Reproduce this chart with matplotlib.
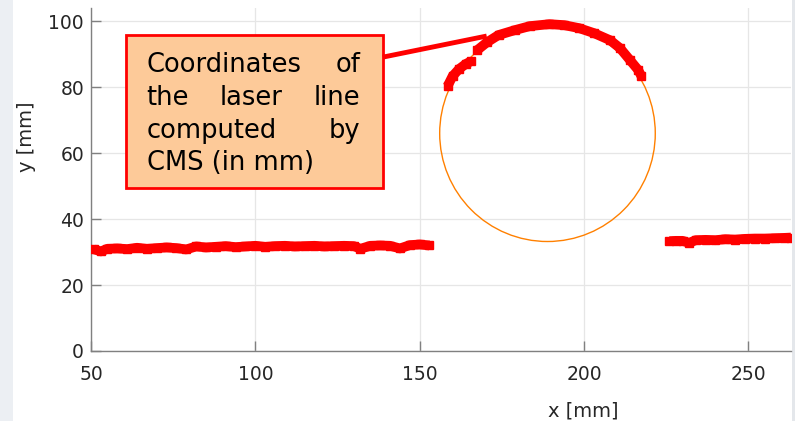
import numpy as np
import matplotlib
matplotlib.use("Agg")
import matplotlib.pyplot as plt
from matplotlib.patches import Circle, Rectangle

# Laser line points (mm)
left_x = [51, 53, 55, 58, 61, 64, 67, 70, 73, 76, 79, 82, 85, 88, 91, 94, 97, 100, 103, 106,
          109, 112, 115, 118, 121, 124, 127, 130, 132, 135, 138, 141, 144, 147, 150, 153]
left_y = [30.8, 30.2, 31.0, 31.1, 30.9, 31.3, 31.0, 31.2, 31.4, 31.2, 30.8, 31.7, 31.4, 31.6,
          31.8, 31.5, 31.7, 31.9, 31.6, 31.8, 31.9, 31.7, 31.8, 31.9, 31.7, 31.8, 31.9, 31.8,
          31.0, 31.9, 32.0, 31.9, 31.1, 32.1, 32.3, 32.0]

arc_x = [158.5, 160, 162, 164, 165.5, np.nan, 167.5, 170.5, 174, 179, 183.5, 189.5, 194,
         198.5, 203, 208, 211, 214, 216.5, 217.5]
arc_y = [80.3, 83.3, 85.5, 87.0, 87.8, np.nan, 91.2, 93.6, 95.8, 97.3, 98.5, 99.1, 98.8,
         97.9, 96.4, 94.2, 91.8, 88.2, 85.2, 83.3]

right_x = [226, 228, 230, 232, 234, 237, 240, 243, 246, 249, 252, 255, 258, 261, 263]
right_y = [33.3, 33.4, 33.4, 32.8, 33.6, 33.7, 33.6, 33.9, 33.8, 34.0, 34.1, 34.1, 34.2, 34.3, 34.4]

# fitted circle
circ_center = (188.9, 66.0)
circ_radius = 32.8

note_lines = [["Coordinates", "of"], ["the", "laser", "line"], ["computed", "by"], ["CMS (in mm)"]]

fig = plt.figure(figsize=(7.95, 4.21), dpi=100)
fig.patch.set_facecolor("white")
# grey strips at the screenshot edges
fig.patches.append(Rectangle((0, 0), 13 / 795, 1, transform=fig.transFigure,
                             facecolor="#eceff3", edgecolor="none", zorder=-5))
fig.patches.append(Rectangle((792 / 795, 0), 3 / 795, 1, transform=fig.transFigure,
                             facecolor="#e4e7eb", edgecolor="none", zorder=-5))

ax = fig.add_axes([91 / 795, 70 / 421, 700 / 795, 343 / 421])
ax.set_xlim(50, 263)
ax.set_ylim(0, 104)
ax.set_xticks([50, 100, 150, 200, 250])
ax.set_yticks([0, 20, 40, 60, 80, 100])
ax.grid(True, color="#e6e6e6", linewidth=0.9)
ax.set_axisbelow(True)
for s in ["top", "right"]:
    ax.spines[s].set_visible(False)
for s in ["left", "bottom"]:
    ax.spines[s].set_color("#808080")
    ax.spines[s].set_linewidth(1.0)
ax.tick_params(direction="in", length=7, width=1, color="#808080",
               labelsize=13.5, labelcolor="#262626")
ax.tick_params(axis="x", pad=10)
ax.tick_params(axis="y", pad=5)

ax.add_patch(Circle(circ_center, circ_radius, fill=False, edgecolor="#ff8000", linewidth=1.0))

for xs, ys in [(left_x, left_y), (arc_x, arc_y), (right_x, right_y)]:
    ax.plot(xs, ys, color="red", linewidth=7, marker="s", markersize=6,
            solid_capstyle="butt", zorder=3)

# annotation box and pointer
bx0, bx1, by0, by1 = 60.6, 138.8, 49.4, 95.8
ax.add_patch(Rectangle((bx0, by0), bx1 - bx0, by1 - by0, facecolor="#fdca99",
                       edgecolor="red", linewidth=2, zorder=4))
ax.plot([bx1, 170.4], [89.1, 95.5], color="red", linewidth=3.5, zorder=4, solid_capstyle="butt")

# justified text inside the box
fig.canvas.draw()
renderer = fig.canvas.get_renderer()
tx0, tx1 = 66.9, 132.0
line_y = [84.5, 74.5, 64.6, 54.8]
inv = ax.transData.inverted()
for words, yv in zip(note_lines, line_y):
    if len(words) == 1:
        ax.text(tx0, yv, words[0], fontsize=18.5, ha="left", va="baseline", zorder=5)
        continue
    arts = [ax.text(0, yv, w, fontsize=18.5, ha="left", va="baseline", zorder=5) for w in words]
    widths = []
    for a in arts:
        bb = a.get_window_extent(renderer)
        p0 = inv.transform((bb.x0, bb.y0))[0]
        p1 = inv.transform((bb.x1, bb.y0))[0]
        widths.append(p1 - p0)
    gap = (tx1 - tx0 - sum(widths)) / (len(words) - 1)
    xpos = tx0
    for a, w in zip(arts, widths):
        a.set_x(xpos)
        xpos += w + gap

fig.text(583 / 795, 1 - 411 / 421, "x [mm]", fontsize=14, color="#262626", ha="center", va="center")
fig.text(26 / 795, 1 - 137 / 421, "y [mm]", fontsize=14, color="#262626", ha="center", va="center",
         rotation=90)

fig.savefig("out.png", dpi=100)
